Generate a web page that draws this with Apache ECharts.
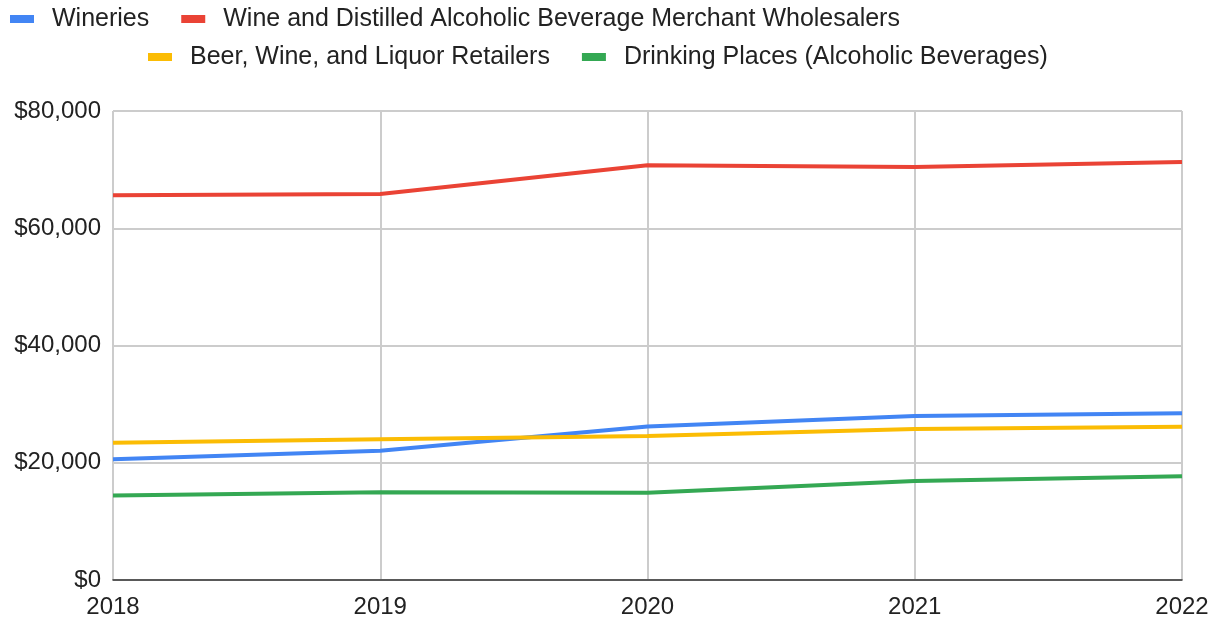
<!DOCTYPE html>
<html>
<head>
<meta charset="utf-8">
<script src="https://cdn.jsdelivr.net/npm/echarts@6/dist/echarts.min.js"></script>
<style>
  html, body { margin: 0; padding: 0; background: #fff; }
  #chart { width: 1222px; height: 625px; }
</style>
</head>
<body>
<div id="chart"></div>
<script>
// Average annual pay by alcoholic beverage industry segment
const years = ['2018', '2019', '2020', '2021', '2022'];
const wineries = [20600, 22050, 26200, 27970, 28430];
const wholesalers = [65620, 65840, 70750, 70450, 71300];
const retailers = [23420, 24000, 24560, 25760, 26150];
const drinkingPlaces = [14400, 14950, 14900, 16890, 17680];

const seriesNames = [
  'Wineries',
  'Wine and Distilled Alcoholic Beverage Merchant Wholesalers',
  'Beer, Wine, and Liquor Retailers',
  'Drinking Places (Alcoholic Beverages)'
];
const seriesColors = ['#4285F4', '#EA4335', '#FBBC04', '#34A853'];
const seriesData = [wineries, wholesalers, retailers, drinkingPlaces];

const FONT = 'Liberation Sans, Arial, sans-serif';
const FS = 24;

const legendBase = {
  orient: 'horizontal',
  icon: 'rect',
  padding: 0,
  itemWidth: 24,
  itemHeight: 8,
  itemGap: 32,
  textStyle: {
    fontFamily: FONT, fontSize: 25, lineHeight: 28, color: '#222',
    padding: [0, 0, 0, 13]
  }
};

const chart = echarts.init(document.getElementById('chart'));
chart.setOption({
  animation: false,
  color: seriesColors,
  textStyle: { fontFamily: FONT },
  legend: [
    Object.assign({}, legendBase, { data: [seriesNames[0], seriesNames[1]], left: 10, top: 5 }),
    Object.assign({}, legendBase, { data: [seriesNames[2], seriesNames[3]], left: 148, top: 43 })
  ],
  grid: { left: 113, right: 40, top: 111, bottom: 45, containLabel: false },
  xAxis: {
    type: 'category',
    data: years,
    boundaryGap: false,
    axisLine: { show: true, lineStyle: { color: '#333', width: 1.5 } },
    axisTick: { show: false },
    axisLabel: { fontFamily: FONT, fontSize: FS, color: '#222', margin: 15 },
    splitLine: { show: true, lineStyle: { color: '#ccc', width: 2 } }
  },
  yAxis: {
    type: 'value',
    min: 0,
    max: 80000,
    interval: 20000,
    axisLine: { show: false },
    axisTick: { show: false },
    axisLabel: {
      fontFamily: FONT, fontSize: FS, color: '#222', margin: 12,
      formatter: v => '$' + v.toLocaleString('en-US')
    },
    splitLine: { lineStyle: { color: '#ccc', width: 2 } }
  },
  series: seriesNames.map((name, i) => ({
    name: name,
    type: 'line',
    data: seriesData[i],
    showSymbol: false,
    symbol: 'none',
    lineStyle: { width: 4, color: seriesColors[i] },
    itemStyle: { color: seriesColors[i] }
  }))
});
</script>
</body>
</html>
